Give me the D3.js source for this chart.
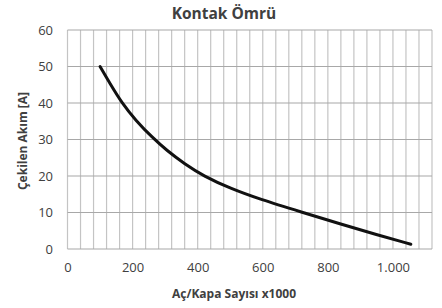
<!DOCTYPE html>
<html>
<head>
<meta charset="utf-8">
<script src="https://cdn.jsdelivr.net/npm/d3@7"></script>
<style>
  body { margin: 0; background: #fff; }
  svg text { font-family: "Open Sans", sans-serif; fill: #404040; }
</style>
</head>
<body>
<div id="app"></div>
<script>
// chart data
const cycles = [100, 130, 167, 210, 260, 305, 360, 418, 500, 592, 720, 838, 950, 1055] // x1000 operations
const current = [50, 45.4, 40, 35.2, 30.6, 27, 23.3, 20, 16.6, 13.6, 10.1, 6.9, 3.9, 1.3] // amps
const xTicks = [0, 200, 400, 600, 800, 1000]
const yTicks = [0, 10, 20, 30, 40, 50, 60]

const W = 442, H = 308
const M = { top: 30, right: 10, bottom: 59, left: 67.5 }

const svg = d3.select('#app').append('svg')
    .attr('width', W)
    .attr('height', H)

const x = d3.scaleLinear().domain([0, 1120]).range([M.left, W - M.right])
const y = d3.scaleLinear().domain([0, 60]).range([H - M.bottom, M.top])

// vertical grid every 40, horizontal every 10
svg.append('g').selectAll('line')
    .data(d3.range(0, 1121, 40))
    .join('line')
    .attr('x1', d => x(d)).attr('x2', d => x(d))
    .attr('y1', y(0)).attr('y2', y(60))
    .attr('stroke', '#c4c4c4')
    .attr('stroke-width', 1.2)

svg.append('g').selectAll('line')
    .data(yTicks)
    .join('line')
    .attr('x1', x(0)).attr('x2', x(1120))
    .attr('y1', d => y(d)).attr('y2', d => y(d))
    .attr('stroke', '#a8a8a8')
    .attr('stroke-width', 1.2)

// axes - only labels, no domain lines
const xAxis = svg.append('g')
    .attr('transform', `translate(0, ${y(0)})`)
    .call(d3.axisBottom(x).tickValues(xTicks).tickSize(0).tickPadding(14)
        .tickFormat(d => d >= 1000 ? d3.format(',')(d).replace(',', '.') : d))
xAxis.select('.domain').remove()
xAxis.selectAll('text').style('font-size', '13px').style('font-family', '"Open Sans", sans-serif').attr('fill', '#404040')

const yAxis = svg.append('g')
    .attr('transform', `translate(${x(0)}, 0)`)
    .call(d3.axisLeft(y).tickValues(yTicks).tickSize(0).tickPadding(14.5))
yAxis.select('.domain').remove()
yAxis.selectAll('text').style('font-size', '13px').style('font-family', '"Open Sans", sans-serif').attr('fill', '#404040')

// the curve - basis smooths out the reading noise
const line = d3.line()
    .x((d, i) => x(d))
    .y((d, i) => y(current[i]))
    .curve(d3.curveBasis)

svg.append('path')
    .datum(cycles)
    .attr('d', line)
    .attr('fill', 'none')
    .attr('stroke', '#111')
    .attr('stroke-width', 3)
    .attr('stroke-linecap', 'round')

// titles
svg.append('text')
    .attr('x', 224).attr('y', 19)
    .attr('text-anchor', 'middle')
    .style('font-size', '15.5px').style('font-weight', 'bold')
    .text('Kontak Ömrü')

svg.append('text')
    .attr('x', 234).attr('y', 298)
    .attr('text-anchor', 'middle')
    .style('font-size', '12px').style('font-weight', 'bold')
    .text('Aç/Kapa Sayısı x1000')

svg.append('text')
    .attr('transform', `translate(27, 141) rotate(-90)`)
    .attr('text-anchor', 'middle')
    .style('font-size', '12px').style('font-weight', 'bold')
    .text('Çekilen Akım [A]')
</script>
</body>
</html>
